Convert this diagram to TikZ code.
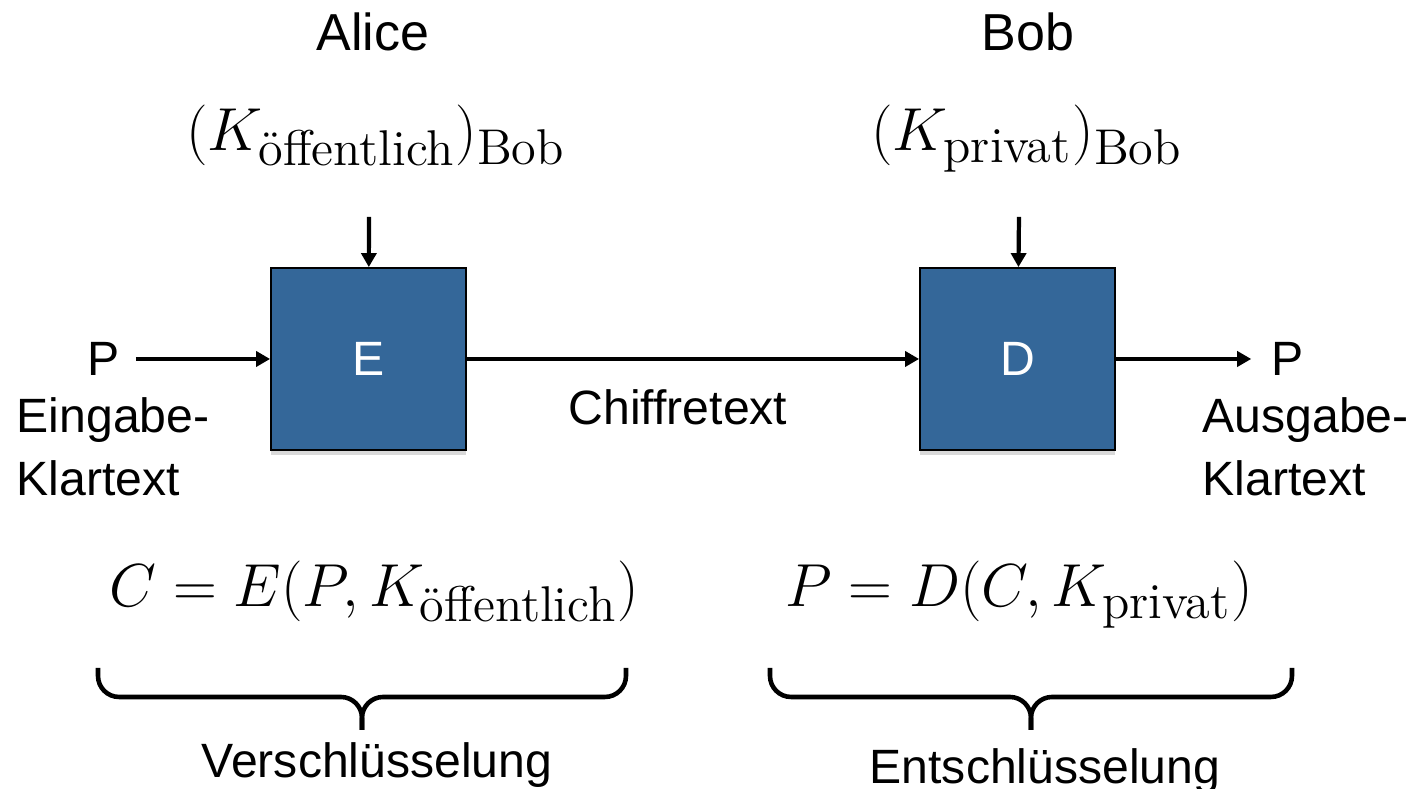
\documentclass[tikz,border=0pt]{standalone}
\usepackage{fontspec}
\usepackage{amsmath}
\newfontfamily\arialfont{Liberation Sans}
\usetikzlibrary{arrows.meta,shadows,positioning}
\definecolor{boxblue}{RGB}{52,103,153}
\newcommand{\idx}[1]{\mbox{\fontsize{14.3}{16}\selectfont #1}}
\tikzset{
	cipherbox/.style={draw=black, line width=.5pt, fill=boxblue, minimum width=1.95cm, minimum height=1.82cm, text=white, font=\arialfont\fontsize{13.7}{16}\selectfont, drop shadow={opacity=.3, shadow xshift=0cm, shadow yshift=-.05cm}},
	sanslabel/.style={font=\arialfont\fontsize{13.7}{18}\selectfont, inner sep=0pt},
	flow/.style={line width=1.2pt, -{Triangle[length=1.4mm,width=1.5mm]}},
	bracket/.style={line width=1.3pt, rounded corners=6pt},
}
\begin{document}
\begin{tikzpicture}
	\useasboundingbox (0,0) rectangle (14.13,7.89);
	\node [sanslabel, font=\arialfont\fontsize{14.8}{18}\selectfont] (alice) at (3.73,7.57) {Alice};
	\node [sanslabel, font=\arialfont\fontsize{14.8}{18}\selectfont] (bob) at (10.28,7.57) {Bob};
	\node [anchor=base, font=\fontsize{19}{21}\selectfont] (kpub) at (3.76,6.38) {$(K_{\idx{öffentlich}})_{\idx{Bob}}$};
	\node [anchor=base, font=\fontsize{19}{21}\selectfont] (kpriv) at (10.27,6.38) {$(K_{\idx{privat}})_{\idx{Bob}}$};
	\node [cipherbox] (enc) at (3.685,4.30) {E};
	\node [cipherbox] (dec) at (10.175,4.30) {D};
	\coordinate (kin1) at (3.69,5.72);
	\coordinate (kin2) at (10.19,5.72);
	\node [sanslabel, inner xsep=1.5mm] (pin) at (1.04,4.30) {P};
	\node [sanslabel, inner xsep=2mm] (pout) at (12.88,4.30) {P};
	\node [sanslabel] (cipher) at (6.78,3.82) {Chiffretext};
	\node [sanslabel, anchor=north west, align=left] (inlab) at (0.16,3.92) {Eingabe-\\Klartext};
	\node [sanslabel, anchor=north west, align=left] (outlab) at (12.02,3.92) {Ausgabe-\\Klartext};
	\draw [flow] (kin1) -- (enc);
	\draw [flow] (kin2) -- (dec);
	\draw [flow] (pin) -- (enc);
	\draw [flow] (enc) -- (dec);
	\draw [flow] (dec) -- (pout);
	\node [anchor=base, font=\fontsize{16}{18}\selectfont] (encform) at (3.74,1.82) {$C = E(P, K_{\idx{öffentlich}})$};
	\node [anchor=base, font=\fontsize{16}{18}\selectfont] (decform) at (10.19,1.82) {$P = D(C, K_{\idx{privat}})$};
	% geschweifte Klammern
	\draw [bracket] (0.98,1.21) -- (0.98,0.92) -- (3.62,0.92) -- (3.62,0.59);
	\draw [bracket] (6.26,1.21) -- (6.26,0.92) -- (3.62,0.92) -- (3.62,0.59);
	\draw [bracket] (7.70,1.21) -- (7.70,0.92) -- (10.31,0.92) -- (10.31,0.59);
	\draw [bracket] (12.92,1.21) -- (12.92,0.92) -- (10.31,0.92) -- (10.31,0.59);
	\node [sanslabel, anchor=base] (enclab) at (3.77,0.11) {Verschlüsselung};
	\node [sanslabel, anchor=base] (declab) at (10.45,0.05) {Entschlüsselung};
\end{tikzpicture}
\end{document}
